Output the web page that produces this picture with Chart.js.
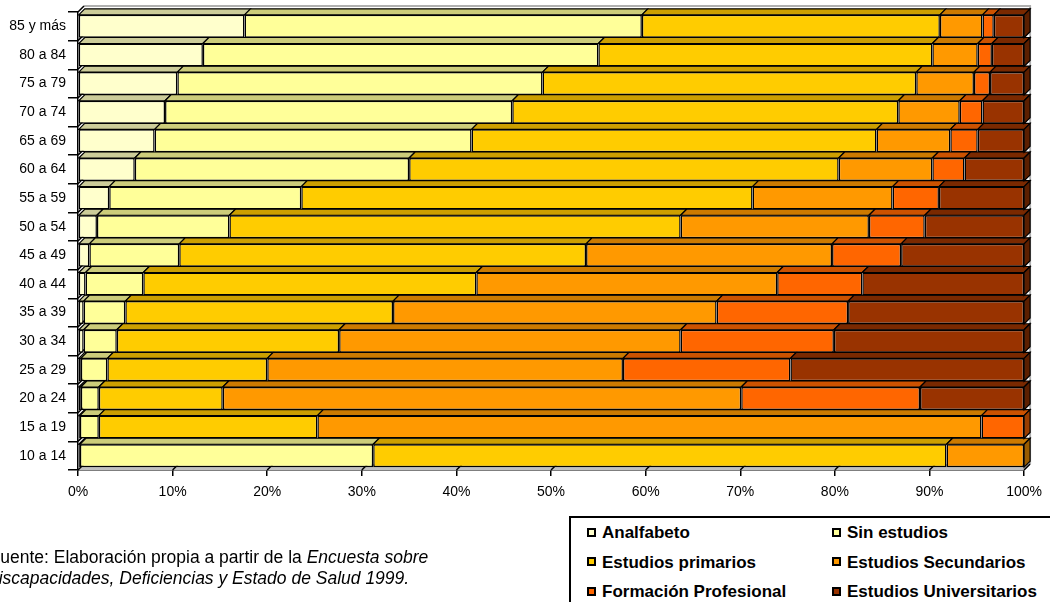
<!DOCTYPE html>
<html>
<head>
<meta charset="utf-8">
<script src="https://cdn.jsdelivr.net/npm/chart.js@4.4.1/dist/chart.umd.min.js"></script>
<style>
  body { margin: 0; background: #fff; }
  #wrap { position: relative; width: 1050px; height: 602px; overflow: hidden; background: #fff; }
  #chart { position: absolute; left: 0; top: 0; }
  .fuente {
    position: absolute;
    font: 17.5px "Liberation Sans", Arial, sans-serif; line-height: 21px; color: #000; white-space: nowrap;
  }
  #legend {
    position: absolute; left: 569px; top: 516px; width: 520px; height: 100px;
    border: 2px solid #000; background: #fff;
  }
  .item {
    position: absolute; display: flex; align-items: center; height: 20px;
    font: bold 17px "Liberation Sans", Arial, sans-serif; color: #000; white-space: nowrap;
  }
  .mark { width: 9px; height: 9px; box-sizing: border-box; border: 2px solid #000; margin-right: 6px; margin-top: -2px; }
</style>
</head>
<body>
<div id="wrap">
  <canvas id="chart" width="1050" height="602"></canvas>
  <div class="fuente" style="left:-10.5px; top:547px">Fuente: Elaboración propia a partir de la <i>Encuesta sobre</i></div>
  <div class="fuente" style="left:-14px; top:568px"><i>Discapacidades, Deficiencias y Estado de Salud 1999.</i></div>
  <div id="legend"></div>
</div>
<script>
// --- datos (porcentaje por grupo de edad) ---
const ageGroups = ['10 a 14', '15 a 19', '20 a 24', '25 a 29', '30 a 34', '35 a 39', '40 a 44', '45 a 49',
                   '50 a 54', '55 a 59', '60 a 64', '65 a 69', '70 a 74', '75 a 79', '80 a 84', '85 y más'];
const analfabeto     = [0.2, 0.2, 0.3, 0.3, 0.6, 0.6, 0.8, 1.2, 2.0, 3.3, 6.0, 8.1, 9.2, 10.5, 13.2, 17.6];
const sinEstudios    = [31.0, 2.0, 1.9, 2.8, 3.5, 4.4, 6.1, 9.5, 14.0, 20.3, 29.0, 33.5, 36.7, 38.6, 41.8, 42.0];
const primarios      = [60.6, 23.1, 13.1, 16.9, 23.5, 28.3, 35.2, 43.0, 47.7, 47.7, 45.4, 42.8, 40.8, 39.5, 35.3, 31.5];
const secundarios    = [8.2, 70.2, 54.8, 37.6, 36.1, 34.2, 31.8, 26.0, 19.9, 14.8, 9.9, 7.8, 6.5, 6.1, 4.8, 4.5];
const formacionProf  = [0, 4.5, 18.9, 17.7, 16.2, 13.9, 9.0, 7.3, 5.9, 4.9, 3.4, 2.9, 2.4, 1.7, 1.5, 1.2];
const universitarios = [0, 0, 11.0, 24.7, 20.1, 18.6, 17.1, 13.0, 10.5, 9.0, 6.3, 4.9, 4.4, 3.6, 3.4, 3.2];

const seriesNames = ['Analfabeto', 'Sin estudios', 'Estudios primarios', 'Estudios Secundarios',
                     'Formación Profesional', 'Estudios Universitarios'];
const seriesData = [analfabeto, sinEstudios, primarios, secundarios, formacionProf, universitarios];
const xTicks = [0, 10, 20, 30, 40, 50, 60, 70, 80, 90, 100];

// colores: cara frontal, cara superior, cara lateral
const frontColors = ['#FFFFCC', '#FFFF99', '#FFCC00', '#FF9900', '#FF6600', '#993300'];
const topColors   = ['#CCCC99', '#CCCC7A', '#CC9F00', '#CC7A00', '#CC5200', '#7A2900'];
const sideColors  = ['#999973', '#99995C', '#997A00', '#995C00', '#993D00', '#5C1F00'];

const FONT = '"Liberation Sans", Arial, sans-serif';
const DEPTH = 6; // profundidad del efecto 3D

// leyenda en HTML (2 columnas)
const legendBox = document.getElementById('legend');
seriesNames.forEach((name, i) => {
  const it = document.createElement('div');
  it.className = 'item';
  it.style.left = (i % 2 === 0 ? 16 : 261) + 'px';
  it.style.top = (5 + Math.floor(i / 2) * 29.5) + 'px';
  it.innerHTML = '<span class="mark" style="background:' + frontColors[i] + '"></span>' + name;
  legendBox.appendChild(it);
});

// plugin: caras superiores / laterales de las barras, suelo y pared
const depth3d = {
  id: 'depth3d',
  beforeDatasetsDraw(chart) {
    const ctx = chart.ctx;
    const a = chart.chartArea;
    const xs = chart.scales.x;
    const d = DEPTH;
    ctx.save();

    // pared del fondo
    ctx.strokeStyle = '#B0B0B0';
    ctx.lineWidth = 2;
    ctx.beginPath();
    ctx.moveTo(a.left + d, a.top - d);
    ctx.lineTo(a.right + d, a.top - d);
    ctx.lineTo(a.right + d, a.bottom - d);
    ctx.stroke();

    // suelo
    ctx.fillStyle = '#C0C0C0';
    ctx.beginPath();
    ctx.moveTo(a.left, a.bottom);
    ctx.lineTo(a.left + d, a.bottom - d);
    ctx.lineTo(a.right + d, a.bottom - d);
    ctx.lineTo(a.right, a.bottom);
    ctx.closePath();
    ctx.fill();

    // diagonales de las marcas
    ctx.strokeStyle = '#000';
    ctx.lineWidth = 1.5;
    const n = chart.data.labels.length;
    const band = (a.bottom - a.top) / n;
    ctx.beginPath();
    for (let k = 0; k <= n; k++) {
      const yy = a.top + k * band;
      ctx.moveTo(a.left, yy);
      ctx.lineTo(a.left + d, yy - d);
    }
    xTicks.forEach(v => {
      const px = xs.getPixelForValue(v);
      ctx.moveTo(px, a.bottom);
      ctx.lineTo(px + d, a.bottom - d);
    });
    ctx.stroke();

    // caras 3D de cada barra
    ctx.lineWidth = 1.2;
    for (let j = 0; j < n; j++) {
      let last = -1;
      chart.data.datasets.forEach((ds, i) => {
        if (ds.data[j] > 0) last = i;
      });
      chart.data.datasets.forEach((ds, i) => {
        if (!(ds.data[j] > 0)) return;
        const el = chart.getDatasetMeta(i).data[j];
        const left = Math.min(el.base, el.x);
        const right = Math.max(el.base, el.x);
        const top = el.y - el.height / 2;
        const bottom = el.y + el.height / 2;
        ctx.fillStyle = topColors[i];
        ctx.beginPath();
        ctx.moveTo(left, top);
        ctx.lineTo(left + d, top - d);
        ctx.lineTo(right + d, top - d);
        ctx.lineTo(right, top);
        ctx.closePath();
        ctx.fill();
        ctx.stroke();
        if (i === last) {
          ctx.fillStyle = sideColors[i];
          ctx.beginPath();
          ctx.moveTo(right, top);
          ctx.lineTo(right + d, top - d);
          ctx.lineTo(right + d, bottom - d);
          ctx.lineTo(right, bottom);
          ctx.closePath();
          ctx.fill();
          ctx.stroke();
        }
      });
    }
    ctx.restore();
  }
};

Chart.defaults.font.family = FONT;
Chart.defaults.color = '#000';

new Chart(document.getElementById('chart'), {
  type: 'bar',
  data: {
    labels: ageGroups,
    datasets: seriesData.map((arr, i) => ({
      label: seriesNames[i],
      data: arr,
      backgroundColor: frontColors[i],
      borderColor: '#000',
      borderWidth: 1.5,
      borderSkipped: false,
      categoryPercentage: 1,
      barPercentage: 0.8
    }))
  },
  options: {
    indexAxis: 'y',
    responsive: false,
    animation: false,
    layout: { padding: { left: 0, right: 25, top: 12, bottom: 92 } },
    plugins: {
      legend: { display: false },
      tooltip: { enabled: false }
    },
    scales: {
      x: {
        stacked: true,
        min: 0,
        max: 100,
        afterFit: s => { s.height = 40; },
        afterBuildTicks: s => { s.ticks = xTicks.map(v => ({ value: v })); },
        ticks: {
          font: { size: 14 },
          padding: 8,
          maxRotation: 0,
          callback: v => v + '%'
        },
        grid: { drawOnChartArea: false, tickLength: 6, color: '#000', lineWidth: 1.5 },
        border: { color: '#000', width: 1.5 }
      },
      y: {
        stacked: true,
        reverse: true,
        afterFit: s => { s.width = 78; },
        ticks: { font: { size: 14 }, padding: 2 },
        grid: { drawOnChartArea: false, tickLength: 10, color: '#000', lineWidth: 1.5, offset: true },
        border: { color: '#000', width: 1.5 }
      }
    }
  },
  plugins: [depth3d]
});
</script>
</body>
</html>
